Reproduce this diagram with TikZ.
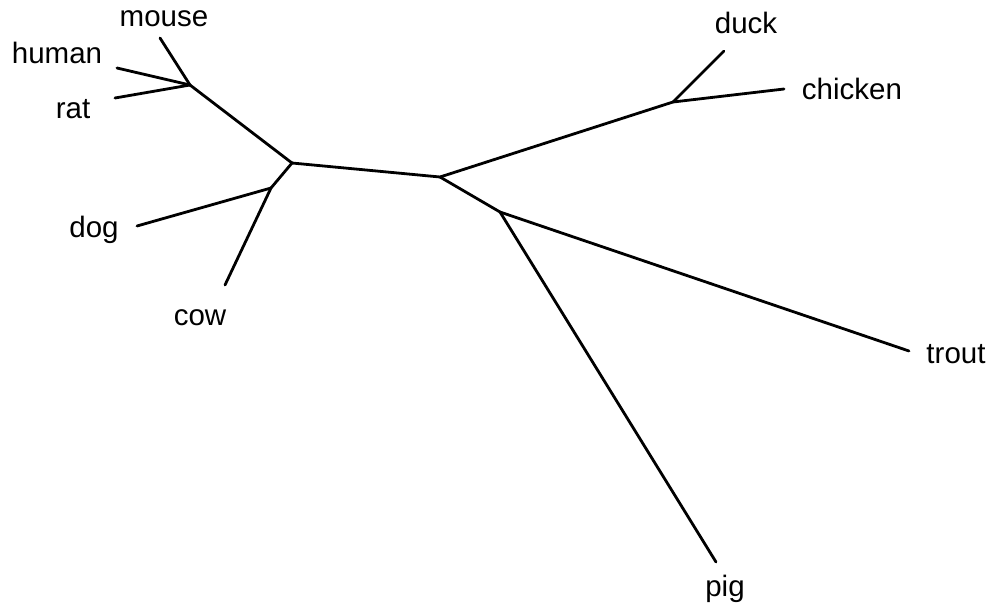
\documentclass[tikz,border=0pt]{standalone}
\usepackage{fontspec}
\setmainfont{Liberation Sans}
\usetikzlibrary{positioning}
\tikzset{
  every picture/.append style={line cap=round,line join=round},
  tree branch/.style={line width=2.8pt,black},
  tree label/.style={font=\fontsize{29.5}{32}\selectfont,anchor=base,inner sep=0pt}
}

\begin{document}
\begin{tikzpicture}[x=1pt,y=-1pt]
\useasboundingbox (0,0) rectangle (996,614);
% inner junctions
\coordinate (rodent) at (190,85);
\coordinate (mammal) at (292,163);
\coordinate (hoof) at (271,188);
\coordinate (root) at (440,177);
\coordinate (bird) at (673,102);
\coordinate (fish) at (500,212);
% leaf tips
\coordinate (mouse tip) at (160,38);
\coordinate (human tip) at (117,68);
\coordinate (rat tip) at (115,98);
\coordinate (dog tip) at (137,226);
\coordinate (cow tip) at (225,285);
\coordinate (duck tip) at (724,51);
\coordinate (chicken tip) at (784,89);
\coordinate (trout tip) at (909,351);
\coordinate (pig tip) at (716,562);
% labels
\node[tree label] (mouse) at (164,26) {mouse};
\node[tree label] (human) at (57,63) {human};
\node[tree label] (rat) at (73,118) {rat};
\node[tree label] (dog) at (94,237) {dog};
\node[tree label] (cow) at (200,325) {cow};
\node[tree label] (duck) at (746,33) {duck};
\node[tree label] (chicken) at (852,99) {chicken};
\node[tree label] (trout) at (956,363) {trout};
\node[tree label] (pig) at (725,596) {pig};
% branches
\draw[tree branch] (mouse tip) -- (rodent);
\draw[tree branch] (human tip) -- (rodent);
\draw[tree branch] (rat tip) -- (rodent);
\draw[tree branch] (rodent) -- (mammal);
\draw[tree branch] (mammal) -- (hoof);
\draw[tree branch] (dog tip) -- (hoof);
\draw[tree branch] (cow tip) -- (hoof);
\draw[tree branch] (mammal) -- (root);
\draw[tree branch] (root) -- (bird);
\draw[tree branch] (bird) -- (duck tip);
\draw[tree branch] (bird) -- (chicken tip);
\draw[tree branch] (root) -- (fish);
\draw[tree branch] (fish) -- (trout tip);
\draw[tree branch] (fish) -- (pig tip);
\end{tikzpicture}
\end{document}
